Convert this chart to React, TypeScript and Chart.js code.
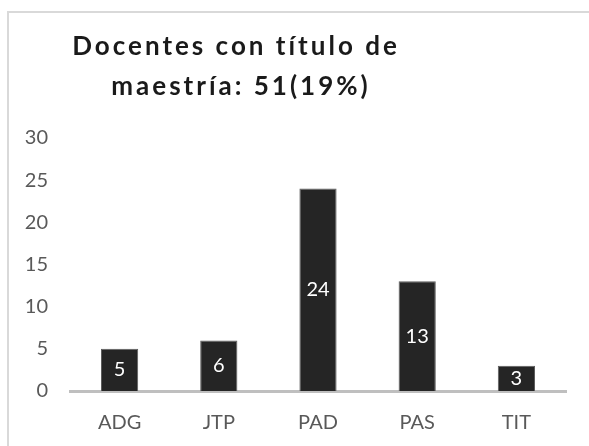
import React, { useEffect, useRef } from "react";
import { Chart, registerables } from "chart.js";

Chart.register(...registerables);

const titleLines = ["Docentes con título de", "maestría: 51(19%)"];
const categories = ["ADG", "JTP", "PAD", "PAS", "TIT"];
const values = [5, 6, 24, 13, 3];
const yMin = 0;
const yMax = 30;
const yStep = 5;

const FONT = "Lato, 'Open Sans', sans-serif";

const titlePlugin = {
  id: "customTitle",
  afterDraw(chart: any) {
    const ctx = chart.ctx as CanvasRenderingContext2D;
    ctx.save();
    ctx.font = `bold 26px ${FONT}`;
    ctx.fillStyle = "#1a1a1a";
    (ctx as any).letterSpacing = "3px";
    ctx.textAlign = "center";
    ctx.textBaseline = "alphabetic";
    ctx.fillText(titleLines[0], 236, 55);
    ctx.fillText(titleLines[1], 241, 95);
    ctx.restore();
  },
};

const valueLabelPlugin = {
  id: "valueLabels",
  afterDatasetsDraw(chart: any) {
    const ctx = chart.ctx as CanvasRenderingContext2D;
    const meta = chart.getDatasetMeta(0);
    ctx.save();
    ctx.font = `20px ${FONT}`;
    ctx.fillStyle = "#ffffff";
    ctx.textAlign = "center";
    ctx.textBaseline = "middle";
    meta.data.forEach((el: any, i: number) => {
      const v = chart.data.datasets[0].data[i];
      const cy = (el.y + el.base) / 2;
      ctx.fillText(String(v), el.x, cy);
    });
    ctx.restore();
  },
};

export default function App() {
  const ref = useRef<HTMLCanvasElement | null>(null);

  useEffect(() => {
    let chart: Chart | null = null;
    let cancelled = false;
    const make = () => {
      if (cancelled || !ref.current) return;
      chart = new Chart(ref.current, {
        type: "bar",
        data: {
          labels: categories,
          datasets: [
            {
              data: values,
              backgroundColor: "#252525",
              borderColor: "#5c5c5c",
              borderWidth: 1,
              barPercentage: 0.375,
              categoryPercentage: 1,
            },
          ],
        },
        options: {
          responsive: false,
          animation: false,
          layout: { padding: { top: 138, right: 23, left: 0, bottom: 0 } },
          plugins: {
            legend: { display: false },
            title: { display: false },
            tooltip: { enabled: false },
          },
          scales: {
            x: {
              grid: { display: false, drawTicks: false, tickLength: 0 },
              border: { display: true, color: "#bfbfbf", width: 3 },
              ticks: { color: "#595959", font: { family: FONT, size: 20 }, padding: 20 },
              afterFit(scale: any) {
                scale.height = 55;
              },
            },
            y: {
              min: yMin,
              max: yMax,
              grid: { display: false, drawTicks: false, tickLength: 0 },
              border: { display: false },
              ticks: {
                stepSize: yStep,
                color: "#595959",
                font: { family: FONT, size: 20 },
                padding: 22,
              },
              afterFit(scale: any) {
                scale.width = 70;
              },
            },
          },
        },
        plugins: [titlePlugin, valueLabelPlugin],
      });
    };
    const fontsReady = (document as any).fonts
      ? Promise.all([
          (document as any).fonts.load(`20px Lato`),
          (document as any).fonts.load(`bold 26px Lato`),
        ]).catch(() => null)
      : Promise.resolve(null);
    fontsReady.then(make);
    return () => {
      cancelled = true;
      if (chart) chart.destroy();
    };
  }, []);

  return (
    <div
      style={{
        position: "fixed",
        left: 0,
        top: 0,
        width: 589,
        height: 446,
        overflow: "hidden",
        background: "#ffffff",
      }}
    >
      <div
        style={{
          position: "absolute",
          left: 7,
          top: 11,
          width: 620,
          height: 480,
          border: "2px solid #d9d9d9",
        }}
      />
      <canvas
        ref={ref}
        width={589}
        height={446}
        style={{ position: "absolute", left: 0, top: 0 }}
      />
    </div>
  );
}
